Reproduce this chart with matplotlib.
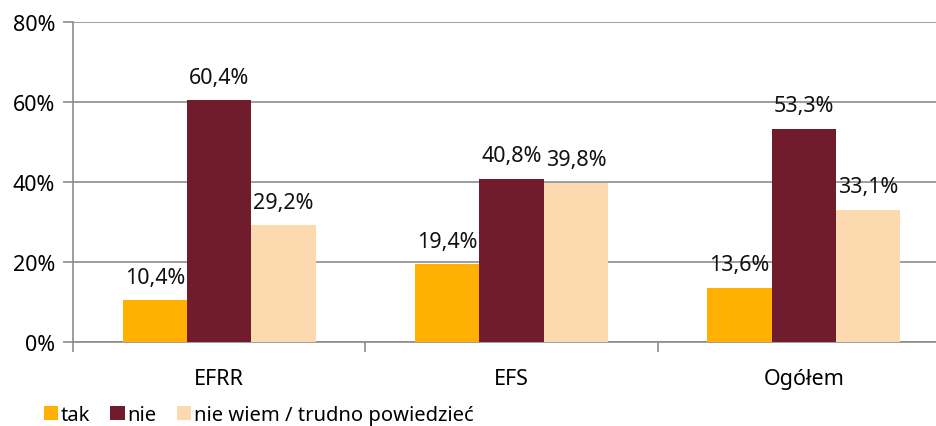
import numpy as np
import matplotlib.pyplot as plt
from matplotlib.ticker import FixedLocator, PercentFormatter

plt.rcParams['font.family'] = ['Noto Sans', 'DejaVu Sans']

categories = ["EFRR", "EFS", "Ogółem"]
series_names = ["tak", "nie", "nie wiem / trudno powiedzieć"]
tak = [10.4, 19.4, 13.6]
nie = [60.4, 40.8, 53.3]
nie_wiem = [29.2, 39.8, 33.1]
colors = ["#FFB000", "#701C2C", "#FDD9B0"]
y_ticks = [0, 20, 40, 60, 80]

FS = 15.5


def fmt(v):
    return f"{v:.1f}%".replace(".", ",")


def main():
    fig = plt.figure(figsize=(9.37, 4.27), dpi=100)
    ax = fig.add_axes([73 / 937, 1 - 343 / 427, (950 - 73) / 937, (343 - 23) / 427])

    x = np.arange(len(categories))
    width = 0.22
    for i, (vals, name) in enumerate(zip([tak, nie, nie_wiem], series_names)):
        pos = x + (i - 1) * width
        bars = ax.bar(pos, vals, width, color=colors[i], label=name, zorder=3)
        for b, v in zip(bars, vals):
            ax.annotate(fmt(v), (b.get_x() + b.get_width() / 2, v),
                        xytext=(0, 9), textcoords="offset points",
                        ha="center", va="bottom", fontsize=FS, color="#111111")

    ax.set_xlim(-0.5, len(categories) - 0.5)
    ax.set_ylim(0, 80)
    ax.yaxis.set_major_locator(FixedLocator(y_ticks))
    ax.yaxis.set_major_formatter(PercentFormatter(decimals=0))
    ax.grid(axis="y", color="#8C8C8C", linewidth=1.2, zorder=0)

    ax.set_xticks(x)
    ax.set_xticklabels(categories)
    ax.xaxis.set_minor_locator(FixedLocator(np.arange(len(categories) + 1) - 0.5))
    ax.tick_params(axis="x", which="major", length=0, pad=19, labelsize=FS)
    ax.tick_params(axis="x", which="minor", length=7, color="#8C8C8C", width=1.2)
    ax.tick_params(axis="y", length=7, color="#8C8C8C", width=1.2, pad=6, labelsize=FS)

    for s in ["top", "right"]:
        ax.spines[s].set_visible(False)
    ax.spines["left"].set_color("#8C8C8C")
    ax.spines["left"].set_linewidth(1.2)
    ax.spines["bottom"].set_color("#8C8C8C")
    ax.spines["bottom"].set_linewidth(1.2)

    fig.legend(loc="center left", bbox_to_anchor=(0.038, 1 - 416 / 427), ncol=3,
               frameon=False, fontsize=14.5, handlelength=0.7, handleheight=0.7,
               handletextpad=0.15, columnspacing=1.0, borderaxespad=0)

    fig.savefig("out.png", dpi=100)


if __name__ == "__main__":
    main()
